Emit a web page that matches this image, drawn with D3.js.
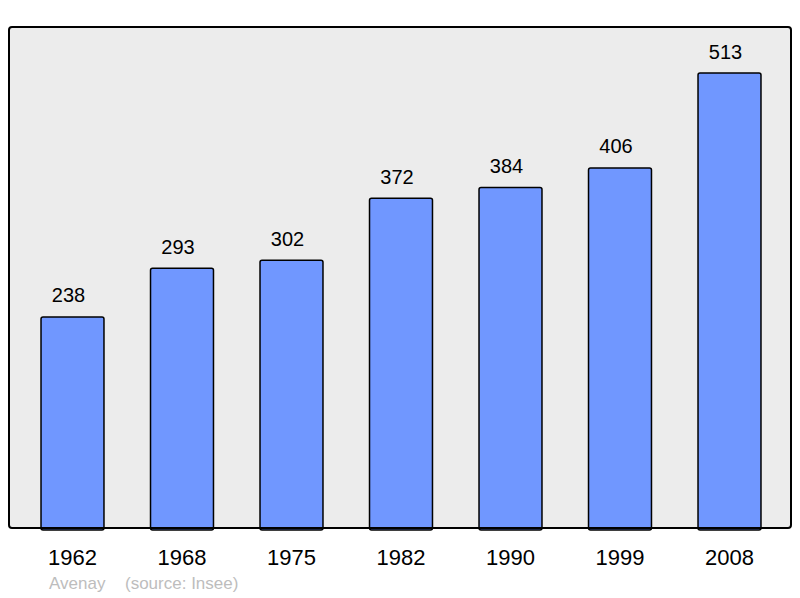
<!DOCTYPE html>
<html>
<head>
<meta charset="utf-8">
<script src="https://cdn.jsdelivr.net/npm/d3@7"></script>
<style>
  body { margin: 0; background: #fff; }
  svg { display: block; font-family: "Liberation Sans", Arial, sans-serif; }
</style>
</head>
<body>
<svg id="chart" width="800" height="598"></svg>
<script>
// population figures (Insee)
var years = ["1962", "1968", "1975", "1982", "1990", "1999", "2008"];
var population = [238, 293, 302, 372, 384, 406, 513];
var commune = "Avenay";
var source = "(source: Insee)";

var svg = d3.select("#chart");

var frame = { left: 9, right: 791, top: 27, bottom: 528 };

var x = d3.scaleBand()
    .domain(years)
    .range([12, 790])
    .paddingInner(0.425)
    .paddingOuter(0.265);

var y = d3.scaleLinear()
    .domain([0, 565])
    .range([frame.bottom, frame.top]);

// plot background
svg.append("rect")
    .attr("x", frame.left)
    .attr("y", frame.top)
    .attr("width", frame.right - frame.left)
    .attr("height", frame.bottom - frame.top)
    .attr("rx", 3)
    .attr("fill", "#ececec");

var data = years.map((d, i) => ({ year: d, value: population[i] }));

svg.selectAll("rect.bar")
    .data(data)
    .enter().append("rect")
    .attr("class", "bar")
    .attr("x", d => x(d.year))
    .attr("y", d => y(d.value))
    .attr("width", x.bandwidth())
    .attr("height", d => frame.bottom - y(d.value) + 2)
    .attr("rx", 2)
    .attr("fill", "#7097ff")
    .attr("stroke", "#000")
    .attr("stroke-width", 1.5);

// frame border on top
svg.append("rect")
    .attr("x", frame.left)
    .attr("y", frame.top)
    .attr("width", frame.right - frame.left)
    .attr("height", frame.bottom - frame.top)
    .attr("rx", 3)
    .attr("fill", "none")
    .attr("stroke", "#000")
    .attr("stroke-width", 2);

// value labels (sit a little left of the bar centre in the original)
svg.selectAll("text.value")
    .data(data)
    .enter().append("text")
    .attr("class", "value")
    .attr("x", d => x(d.year) + x.bandwidth() / 2 - 4)
    .attr("y", d => y(d.value) - 14.5)
    .attr("text-anchor", "middle")
    .style("font-size", "20px")
    .attr("fill", "#000")
    .text(d => d.value);

// year labels
svg.selectAll("text.year")
    .data(data)
    .enter().append("text")
    .attr("class", "year")
    .attr("x", d => x(d.year) + x.bandwidth() / 2)
    .attr("y", 565)
    .attr("text-anchor", "middle")
    .style("font-size", "22px")
    .attr("fill", "#000")
    .text(d => d.year);

svg.append("text")
    .attr("x", 49)
    .attr("y", 589)
    .style("font-size", "17px")
    .attr("fill", "#bdbdbd")
    .text(commune);

svg.append("text")
    .attr("x", 125)
    .attr("y", 589)
    .style("font-size", "17px")
    .attr("fill", "#bdbdbd")
    .text(source);
</script>
</body>
</html>
